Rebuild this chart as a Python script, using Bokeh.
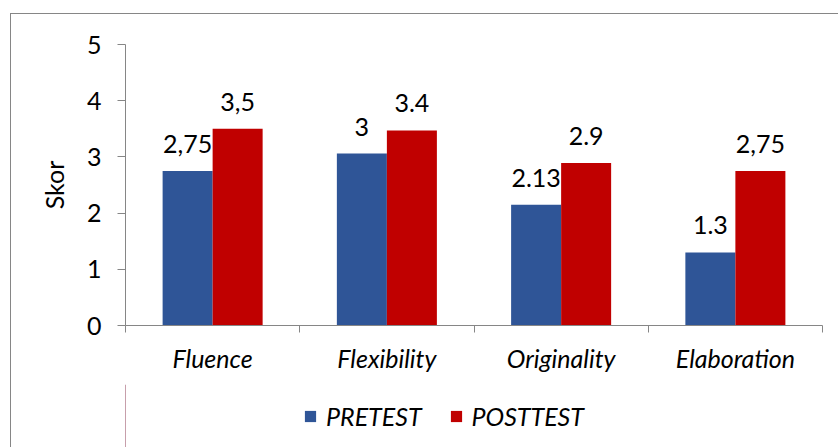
import numpy as np
from bokeh.plotting import figure
from bokeh.layouts import column
from bokeh.models import ColumnDataSource, Range1d, FixedTicker, Legend, LegendItem
from bokeh.core.properties import value
from bokeh.embed import file_html
from bokeh.resources import INLINE

categories = ["Fluence", "Flexibility", "Originality", "Elaboration"]
pretest = [2.75, 3.06, 2.15, 1.30]
posttest = [3.50, 3.47, 2.89, 2.75]
pre_labels = ["2,75", "3", "2.13", "1.3"]
post_labels = ["3,5", "3.4", "2.9", "2,75"]
series_names = ["PRETEST", "POSTTEST"]
y_ticks = [0, 1, 2, 3, 4, 5]

FONT = "Lato"
FS = "25px"
BLUE = "#2F5597"
RED = "#C00000"
GRAY = "#868686"

idx = np.arange(len(categories))
centers = idx + 0.5
bw = 0.287

src_pre = ColumnDataSource(dict(x=centers - bw / 2, top=pretest, lab=pre_labels))
src_post = ColumnDataSource(dict(x=centers + bw / 2, top=posttest, lab=post_labels))

p = figure(width=828, height=370, output_backend="svg", toolbar_location=None,
           x_range=Range1d(0, len(categories)), y_range=Range1d(0, 5),
           min_border_left=114, min_border_right=17, min_border_top=30, min_border_bottom=59)
p.outline_line_color = None
p.xgrid.grid_line_color = None
p.ygrid.grid_line_color = None

p.vbar(x="x", top="top", width=bw, source=src_pre, fill_color=BLUE, line_color=None)
p.vbar(x="x", top="top", width=bw, source=src_post, fill_color=RED, line_color=None)

for s in (src_pre, src_post):
    p.text(x="x", y="top", text="lab", source=s, text_font=value(FONT), text_font_size=FS,
           text_align="center", text_baseline="alphabetic", y_offset=-27, text_color="black")

# y axis
ya = p.yaxis[0]
ya.ticker = FixedTicker(ticks=y_ticks)
ya.axis_line_color = GRAY
ya.major_tick_line_color = GRAY
ya.major_tick_out = 8
ya.major_tick_in = 0
ya.minor_tick_line_color = None
ya.major_label_text_font = FONT
ya.major_label_text_font_size = FS
ya.major_label_text_color = "black"
ya.major_label_standoff = 16
ya.axis_label = "Skor"
ya.axis_label_text_font = FONT
ya.axis_label_text_font_size = FS
ya.axis_label_text_font_style = "normal"
ya.axis_label_text_color = "black"
ya.axis_label_standoff = 15

# x axis
xa = p.xaxis[0]
xa.ticker = FixedTicker(ticks=list(centers), minor_ticks=list(range(len(categories) + 1)))
xa.major_label_overrides = {float(c): n for c, n in zip(centers, categories)}
xa.axis_line_color = GRAY
xa.major_tick_line_color = None
xa.major_tick_out = 7
xa.major_tick_in = 0
xa.minor_tick_line_color = GRAY
xa.minor_tick_out = 7
xa.minor_tick_in = 0
xa.major_label_text_font = FONT
xa.major_label_text_font_size = FS
xa.major_label_text_font_style = "italic"
xa.major_label_text_color = "black"
xa.major_label_standoff = 10

# legend strip below the chart
p2 = figure(width=828, height=64, output_backend="svg", toolbar_location=None,
            x_range=Range1d(0, 1), y_range=Range1d(0, 1),
            min_border_left=114, min_border_right=17, min_border_top=0, min_border_bottom=0,
            x_axis_location=None, y_axis_location=None)
p2.outline_line_color = None
p2.grid.visible = False
# swatch renderers placed outside the visible range (only their legend glyphs show)
lr_pre = p2.vbar(x=[-10], top=[1], width=0.1, fill_color=BLUE, line_color=None)
lr_post = p2.vbar(x=[-10], top=[1], width=0.1, fill_color=RED, line_color=None)

legend = Legend(items=[LegendItem(label=series_names[0], renderers=[lr_pre]),
                       LegendItem(label=series_names[1], renderers=[lr_post])],
                orientation="horizontal", location=(178, 17),
                glyph_width=14, glyph_height=14, label_standoff=9, spacing=27,
                padding=0, margin=0, border_line_color=None, background_fill_alpha=0,
                label_text_font=FONT, label_text_font_size=FS, label_text_font_style="italic",
                label_text_color="black")
p2.add_layout(legend, "center")

layout = column(p, p2, spacing=0)
layout.margin = (13, 0, 0, 10)
layout.styles = {"border-left": f"1px solid {GRAY}", "border-top": f"1px solid {GRAY}"}
open("out.html", "w").write(file_html(layout, INLINE))
